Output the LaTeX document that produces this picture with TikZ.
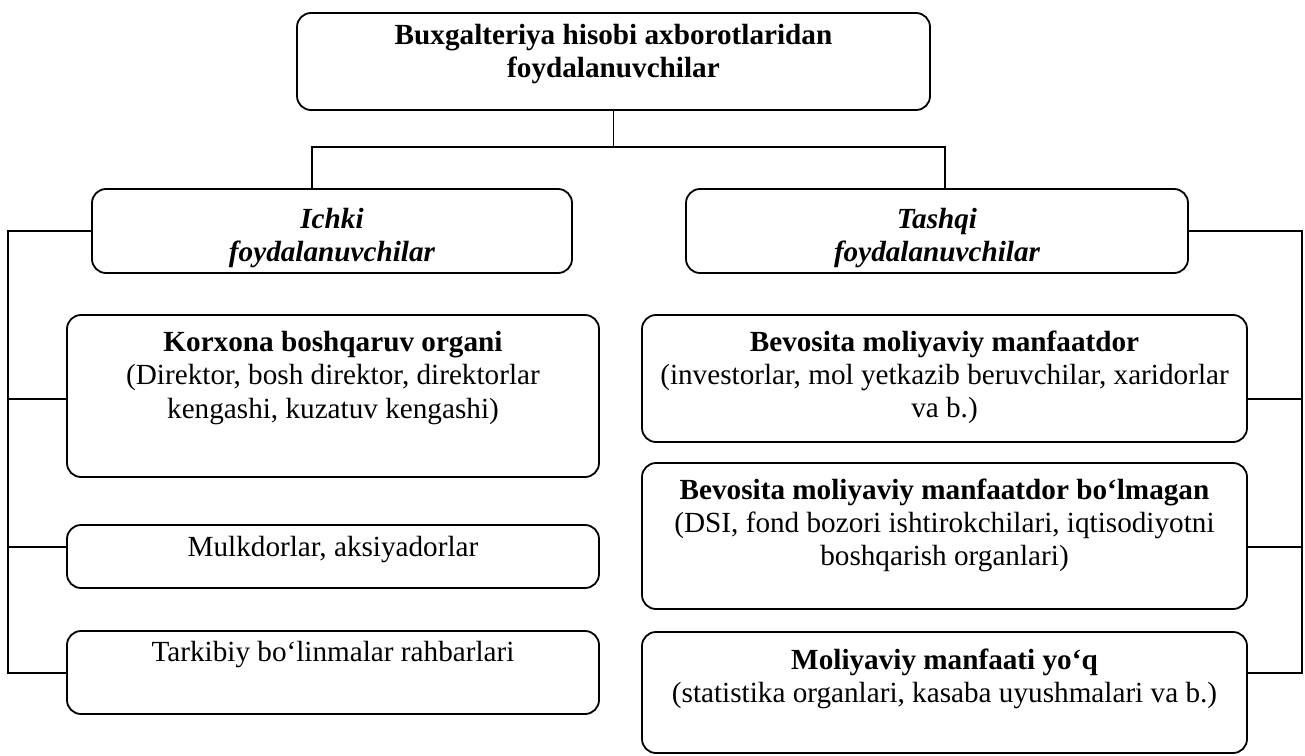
\documentclass[tikz,border=0pt]{standalone}
\usepackage{fontspec}
\setmainfont{Liberation Serif}
\usetikzlibrary{positioning}

\begin{document}
\begin{tikzpicture}[x=0.5pt,y=-0.5pt,
  box/.style={draw,line width=0.9pt,rounded corners=7pt,inner sep=0pt},
  txt/.style={inner sep=0pt,align=center,font=\fontsize{14.6}{16.6}\selectfont},
  head/.style={txt,font=\fontsize{14.6}{16.6}\selectfont\bfseries},
  group/.style={txt,font=\fontsize{14.6}{16.6}\selectfont\bfseries\itshape},
  link/.style={line width=0.9pt}]
  \useasboundingbox (0,0) rectangle (1305,755);

  % top and the two groups
  \node[box,minimum width=316.5pt,minimum height=48.5pt] (root) at (613.5,61.5) {};
  \node[head,below=6pt of root.north] (roott) {Buxgalteriya hisobi axborotlaridan\\foydalanuvchilar};
  \node[box,minimum width=240pt,minimum height=42pt] (ichki) at (332,231) {};
  \node[group,below=10pt of ichki.north] (ichkit) {Ichki\\foydalanuvchilar};
  \node[box,minimum width=251pt,minimum height=42pt] (tashqi) at (937,231) {};
  \node[group,below=10pt of tashqi.north] (tashqit) {Tashqi\\foydalanuvchilar};

  % detail boxes
  \foreach \nm/\cy/\h in {kor/396/81,mulk/556.5/31.5,tark/672.5/41.5}
    \node[box,minimum width=266pt,minimum height=\h pt] (\nm) at (333,\cy) {};
  \foreach \nm/\cy/\h in {bev1/378.5/63.5,bev2/536/73,mol/692.5/60.5}
    \node[box,minimum width=302.5pt,minimum height=\h pt] (\nm) at (944.5,\cy) {};

  \node[txt,below=8.5pt of kor.north] (kort) {\textbf{Korxona boshqaruv organi}\\(Direktor, bosh direktor, direktorlar\\kengashi, kuzatuv kengashi)};
  \node[txt,below=6pt of mulk.north] (mulkt) {Mulkdorlar, aksiyadorlar};
  \node[txt,below=5.5pt of tark.north] (tarkt) {Tarkibiy bo‘linmalar rahbarlari};
  \node[txt,below=8pt of bev1.north] (bev1t) {\textbf{Bevosita moliyaviy manfaatdor}\\(investorlar, mol yetkazib beruvchilar, xaridorlar\\va b.)};
  \node[txt,below=8pt of bev2.north] (bev2t) {\textbf{Bevosita moliyaviy manfaatdor bo‘lmagan}\\(DSI, fond bozori ishtirokchilari, iqtisodiyotni\\boshqarish organlari)};
  \node[txt,below=8.5pt of mol.north] (molt) {\textbf{Moliyaviy manfaati yo‘q}\\(statistika organlari, kasaba uyushmalari va b.)};

  % connectors
  \coordinate (jl) at (312,147);
  \coordinate (jr) at (945,147);
  \draw[link] (root.south) -- (root.south |- jl);
  \draw[link] (jl |- ichki.north) -- (jl) -- (jr) -- (jr |- tashqi.north);

  \coordinate (ll) at (8,673);
  \coordinate (rr) at (1302,673);
  \draw[link] (ichki.west) -| (ll) -- (ll -| tark.west);
  \draw[link] (tashqi.east) -| (rr) -- (rr -| mol.east);
  \foreach \y/\l/\r in {399/kor/bev1,547/mulk/bev2}{
    \coordinate (tl) at (8,\y);
    \coordinate (tr) at (1302,\y);
    \draw[link] (tl) -- (tl -| \l.west);
    \draw[link] (tr) -- (tr -| \r.east);
  }
\end{tikzpicture}
\end{document}
